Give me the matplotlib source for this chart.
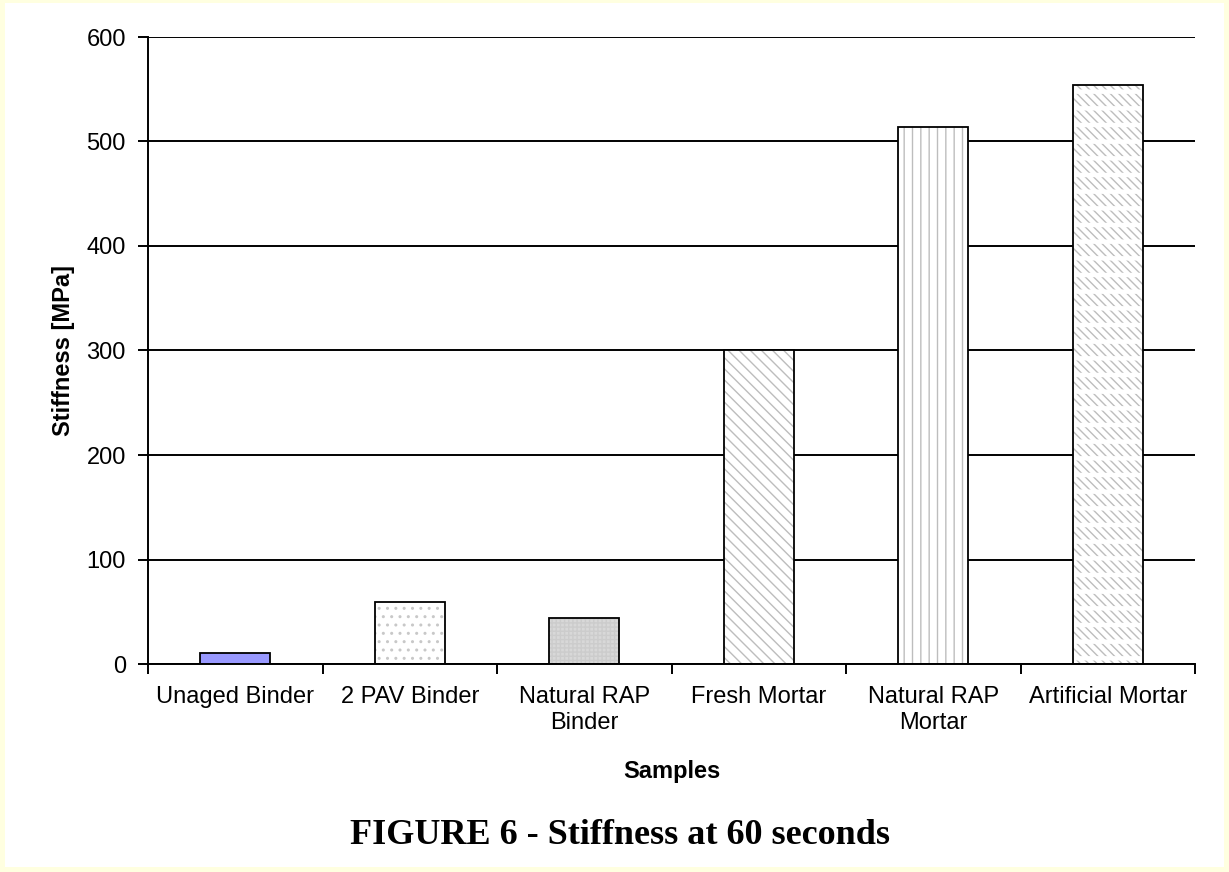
import matplotlib
matplotlib.use('Agg')
from matplotlib import pyplot as plt
from matplotlib.patches import Rectangle
import numpy as np

samples = ['Unaged Binder', '2 PAV Binder', 'Natural RAP\nBinder',
           'Fresh Mortar', 'Natural RAP\nMortar', 'Artificial Mortar']
stiffness = [11, 59, 44, 300, 514, 554]

plt.rcParams['font.family'] = ['Liberation Sans', 'DejaVu Sans']
plt.rcParams['hatch.linewidth'] = 1.0

fig = plt.figure(figsize=(12.29, 8.72), dpi=100)
fig.patch.set_facecolor('#ffffe0')
fig.patches.append(Rectangle((5/1229, 5/872), 1 - 10/1229, 1 - 8/872,
                             transform=fig.transFigure, fc='white', ec='none', zorder=-10))

ax = fig.add_axes([148/1229, 1-664/872, 1047/1229, 627/872])
ax.set_facecolor('none')
x = np.arange(len(samples))
w = 0.4
grey = '#bdbdbd'

# fills / hatches first, black outlines after
ax.bar(x[0], stiffness[0], w, color='#9999ff', zorder=2)
ax.bar(x[1], stiffness[1], w, color='white', hatch='..', edgecolor='#c8c8c8', lw=0, zorder=2)
ax.bar(x[2], stiffness[2], w, color='#d8d8d8', hatch='++++', edgecolor='#cccccc', lw=0, zorder=2)
ax.bar(x[3], stiffness[3], w, color='white', hatch='\\\\\\', edgecolor=grey, lw=0, zorder=2)
ax.bar(x[4], stiffness[4], w, color='white', hatch='||', edgecolor=grey, lw=0, zorder=2)
ax.bar(x[5], stiffness[5], w, color='white', hatch='\\\\\\\\', edgecolor=grey, lw=0, zorder=2)
with plt.rc_context({'hatch.linewidth': 3.2}):
    ax.bar(x[5], stiffness[5], w, fill=False, hatch='-', edgecolor='white', lw=0, zorder=2.5)
ax.bar(x, stiffness, w, fill=False, edgecolor='black', lw=1.3, zorder=3)

ax.set_ylim(0, 600)
ax.set_xlim(-0.5, 5.5)
ax.set_yticks(range(0, 601, 100))
ax.yaxis.grid(True, color='black', lw=1.4)
ax.set_axisbelow(True)

ax.set_xticks(np.arange(-0.5, 6, 1))
ax.set_xticklabels([])
ax.set_xticks(x, minor=True)
ax.set_xticklabels(samples, minor=True)
ax.tick_params(axis='x', which='minor', length=0, pad=16, labelsize=17)
ax.tick_params(axis='x', which='major', length=7, width=1.4, direction='out')
ax.tick_params(axis='y', length=7, width=1.4, pad=9, labelsize=17)

for s in ['top', 'right']:
    ax.spines[s].set_visible(False)
for s in ['left', 'bottom']:
    ax.spines[s].set_linewidth(1.4)

ax.set_ylabel('Stiffness [MPa]', fontsize=17, fontweight='bold')
ax.yaxis.set_label_coords(-0.081, 0.5)
ax.set_xlabel('Samples', fontsize=17, fontweight='bold')
ax.xaxis.set_label_coords(0.5, -0.171)
ax.xaxis.label.set_va('center')
ax.yaxis.label.set_va('center')

fig.text(620/1229, 1-835/872, 'FIGURE 6 - Stiffness at 60 seconds', ha='center', va='center',
         fontsize=26, fontweight='bold', family='Liberation Serif')

plt.savefig('out.png', dpi=100)
